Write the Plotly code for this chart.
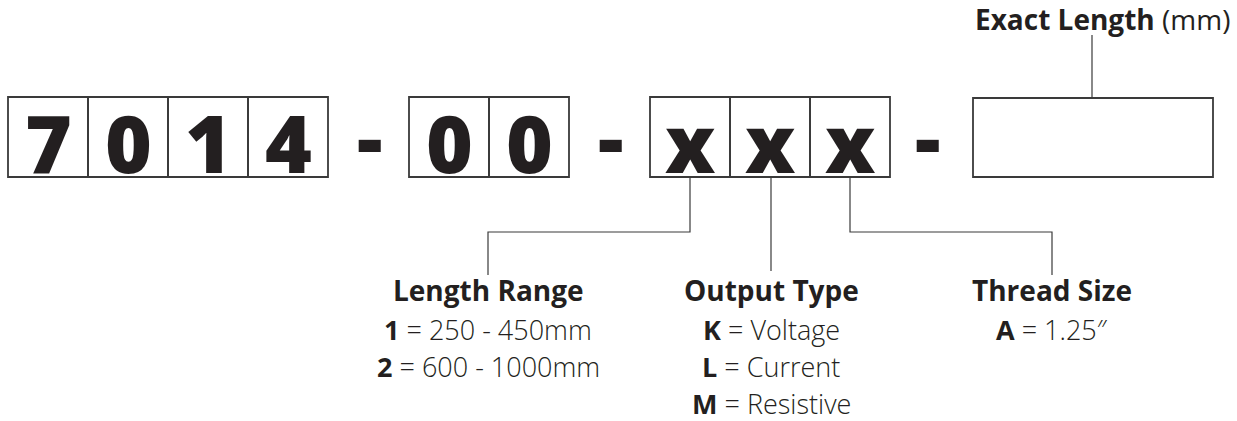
import plotly.graph_objects as go

# ---- data ----
group_chars = [["7", "0", "1", "4"], ["0", "0"], ["x", "x", "x"]]
group_left = [8, 409, 650]
separator = "-"
separator_x = [369, 610, 927]
cell_w = 80
row_top, row_bot = 97, 177
exact_box = [973, 1213]
exact_title = "<b>Exact Length</b> (mm)"

option_titles = ["Length Range", "Output Type", "Thread Size"]
option_lines = [
    ["<b>1</b> = 250 - 450mm", "<b>2</b> = 600 - 1000mm"],
    ["<b>K</b> = Voltage", "<b>L</b> = Current", "<b>M</b> = Resistive"],
    ["<b>A</b> = 1.25″"],
]
option_anchor_cell = [0, 1, 2]     # which x-cell each option points to
option_label_x = [488, 771, 1052]
elbow_y = 232
label_top = 275

INK = "#231f20"
LINE = "#3a3a3a"
FONT = "Open Sans"

fig = go.Figure()
shapes = []
annotations = []

# character boxes
for chars, left in zip(group_chars, group_left):
    for i, ch in enumerate(chars):
        x0 = left + i * cell_w
        shapes.append(dict(type="rect", x0=x0, x1=x0 + cell_w, y0=row_top, y1=row_bot,
                           line=dict(color=LINE, width=1.8), xref="x", yref="y"))
        annotations.append(dict(x=x0 + cell_w / 2, y=141, text=ch, showarrow=False,
                                xanchor="center", yanchor="middle",
                                font=dict(family=FONT, size=80, color=INK, weight=800)))

for sx in separator_x:
    annotations.append(dict(x=sx, y=135, text=separator, showarrow=False,
                            xanchor="center", yanchor="middle",
                            font=dict(family=FONT, size=80, color=INK, weight=800)))

# exact length box
shapes.append(dict(type="rect", x0=exact_box[0], x1=exact_box[1], y0=row_top + 1, y1=row_bot,
                   line=dict(color=LINE, width=1.8), xref="x", yref="y"))
exact_cx = (exact_box[0] + exact_box[1]) / 2 - 1
shapes.append(dict(type="line", x0=exact_cx, x1=exact_cx, y0=35, y1=row_top + 1,
                   line=dict(color=LINE, width=1.2), xref="x", yref="y"))
annotations.append(dict(x=1232, y=19, text=exact_title, showarrow=False,
                        xanchor="right", yanchor="middle",
                        font=dict(family=FONT, size=28, color=INK)))

# option leaders and labels
x_left = group_left[2]
for k, (title, lines) in enumerate(zip(option_titles, option_lines)):
    ax = x_left + option_anchor_cell[k] * cell_w + cell_w / 2
    lx = option_label_x[k]
    if abs(ax - lx) > 3:
        path = f"M {ax},{row_bot} L {ax},{elbow_y} L {lx},{elbow_y} L {lx},{label_top}"
    else:
        path = f"M {lx},{row_bot} L {lx},{label_top - 4}"
    shapes.append(dict(type="path", path=path, line=dict(color=LINE, width=1.2),
                       xref="x", yref="y"))
    annotations.append(dict(x=lx, y=290, text=f"<b>{title}</b>", showarrow=False,
                            xanchor="center", yanchor="middle",
                            font=dict(family=FONT, size=28, color=INK)))
    for j, ln in enumerate(lines):
        annotations.append(dict(x=lx, y=329 + j * 37, text=ln, showarrow=False,
                                xanchor="center", yanchor="middle",
                                font=dict(family=FONT, size=27, color=INK, weight=300)))

fig.update_layout(
    width=1237, height=421,
    margin=dict(l=0, r=0, t=0, b=0),
    paper_bgcolor="white", plot_bgcolor="white",
    xaxis=dict(range=[0, 1237], visible=False, fixedrange=True),
    yaxis=dict(range=[421, 0], visible=False, fixedrange=True),
    shapes=shapes, annotations=annotations, showlegend=False,
)
fig.write_html("out.html", config={"displayModeBar": False},
               post_script="document.body.style.margin='0';document.body.style.overflow='hidden';")
